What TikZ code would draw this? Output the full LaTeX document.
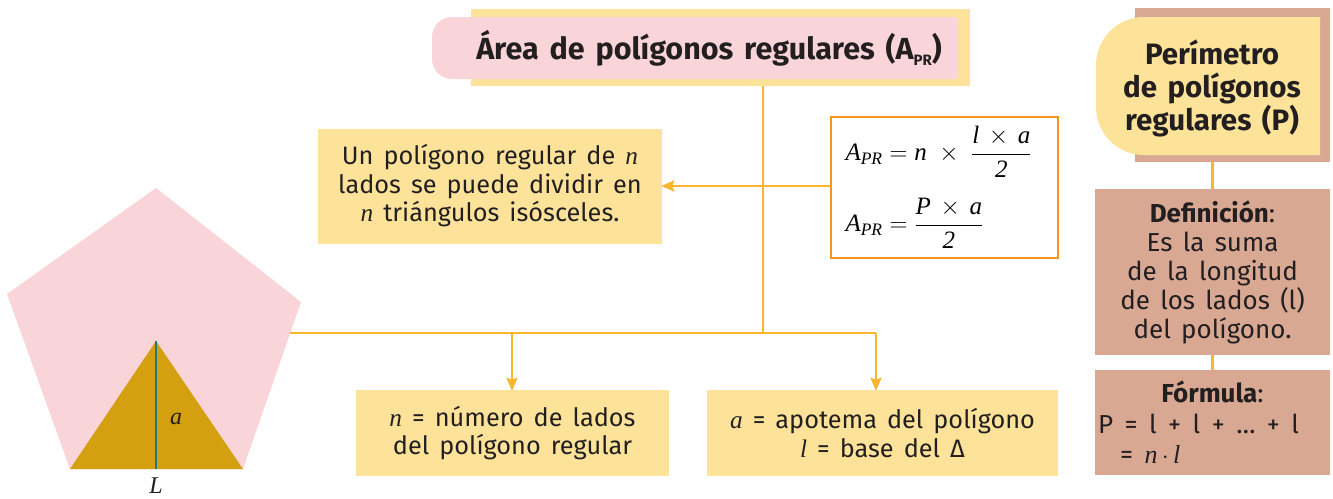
\documentclass[tikz,border=0pt]{standalone}
\usepackage{amsmath}
\usepackage{fontspec}
\setmainfont{Fira Sans}[WordSpace=1.5]
\newfontfamily\serifit{Liberation Serif}
\usepackage{xcolor}
\usetikzlibrary{positioning,calc,arrows.meta}

\definecolor{pinkbg}{HTML}{F9D5DA}
\definecolor{yellowbg}{HTML}{FDE39A}
\definecolor{brownbg}{HTML}{D9A893}
\definecolor{linkcol}{HTML}{F9B52C}
\definecolor{framecol}{HTML}{F7941D}
\definecolor{golden}{HTML}{D4A010}
\definecolor{tealcol}{HTML}{1E7A80}
\definecolor{textcol}{HTML}{231F20}

\newcommand{\vi}[1]{{\serifit\itshape #1}}
\newcommand{\mvi}[1]{\text{\serifit\itshape #1}}
\newcommand{\gap}{\hspace{11.5pt}}

\begin{document}
\begin{tikzpicture}[
    x=1pt, y=-1pt,
    box/.style={fill=yellowbg, inner sep=0pt, align=center, text=textcol, font=\fontsize{25.3}{28.5}\selectfont},
    brbox/.style={fill=brownbg, inner sep=0pt, align=center, text=textcol, font=\fontsize{26}{29}\selectfont},
    hdr/.style={inner sep=0pt, align=center, text=textcol, font=\fontsize{29.5}{33}\selectfont\bfseries},
    link/.style={draw=linkcol, line width=2.5pt},
    arr/.style={link, -{Stealth[length=13pt,width=11pt,inset=2pt]}, shorten >=-1pt},
    lbl/.style={inner sep=0pt, text=textcol, font=\fontsize{24}{24}\selectfont}
]
\useasboundingbox (0,0) rectangle (1333,498);

% ---- Area (title) ----
\node[fill=yellowbg, minimum width=499pt, minimum height=77pt, inner sep=0pt] (titleB) at (720.5,47) {};
\fill[pinkbg] (958,17) -- (600,17) [rounded corners=20] -- (432,17) -- (432,79) -- (600,79) [sharp corners] -- (958,79) -- cycle;
\node[hdr, font=\fontsize{30.5}{33}\selectfont\bfseries] (title) at (709,48) {Área de polígonos regulares (A\raisebox{-6pt}{\fontsize{15}{15}\selectfont PR})};

% ---- pentagon ----
\fill[pinkbg] (156,188) -- (301,302) -- (243,469) -- (70,469) -- (7,294) -- cycle;
\fill[golden] (156,341) -- (243,469) -- (70,469) -- cycle;
\coordinate (apex) at (156,341);
\coordinate (base) at (156,469);
\draw[tealcol, line width=2.2pt] (apex) -- (base);
\node[lbl] (aL) at (176,419) {\vi{a}};
\node[lbl] (LL) at (156,486) {\vi{L}};
\coordinate (pentR) at (290,333);

% ---- boxes ----
\node[box, minimum width=344pt, minimum height=115pt] (desc) at (490,186)
    {Un polígono regular de \vi{n}\\ lados se puede dividir en\\ \vi{n} triángulos isósceles.};
\node[draw=framecol, line width=2pt, fill=white, minimum height=141pt, text width=197pt, inner xsep=15pt, inner ysep=0pt, align=left, font=\fontsize{25}{25}\selectfont] (form) at (944,187.5)
    {$\mvi{A}_{\mvi{PR}} = \mvi{n}\;\times\;\dfrac{\mvi{l}\,\times\,\mvi{a}}{\mvi{2}}$\\[20pt]
     $\mvi{A}_{\mvi{PR}} = \dfrac{\mvi{P}\,\times\,\mvi{a}}{\mvi{2}}$};
\node[box, minimum width=313pt, minimum height=86pt] (nbox) at (512.5,433)
    {\vi{n} = número de lados\\ del polígono regular};
\node[box, minimum width=351pt, minimum height=86pt] (abox) at (882.5,433)
    {\vi{a} = apotema del polígono\\ \vi{l} = base del Δ};

% ---- Perimetro ----
\node[fill=brownbg, minimum width=195pt, minimum height=154pt, inner sep=0pt] (perB) at (1232.5,85) {};
\fill[yellowbg] (1320,17) -- (1200,17) [rounded corners=48] -- (1096,17) -- (1096,155) -- (1200,155) [sharp corners] -- (1320,155) -- cycle;
\node[hdr] (per) at (1212,88) {Perímetro\\ de polígonos\\ regulares (P)};
\node[brbox, minimum width=235pt, minimum height=166pt] (def) at (1212.5,272)
    {\textbf{Definición}:\\ Es la suma\\ de la longitud\\ de los lados (l)\\ del polígono.};
\node[brbox, minimum width=235pt, minimum height=105pt, text width=229pt, align=left, font=\fontsize{26}{30.5}\selectfont] (fbox) at (1212.5,422.5)
    {\makebox[229pt]{\textbf{Fórmula}:}\\ P\gap=\gap l\gap+\gap l\gap+\gap…\gap+\gap l\\ \hspace*{22pt}=\gap\vi{n}\,$\cdot$\,\vi{l}};

% Relations
\coordinate (j) at (763,333);
\coordinate (jn) at (512,333);
\coordinate (ja) at (876,333);
\draw[link] (j |- titleB.south) -- (j);
\draw[link] (pentR) -- (ja);
\draw[arr] (jn) -- (jn |- nbox.north);
\draw[arr] (ja) -- (ja |- abox.north);
\draw[arr] (form.west |- desc.east) -- (desc.east);
\draw[link] (def.north |- perB.south) -- (def.north);
\draw[link] (def.south) -- (fbox.north);
\end{tikzpicture}
\end{document}
